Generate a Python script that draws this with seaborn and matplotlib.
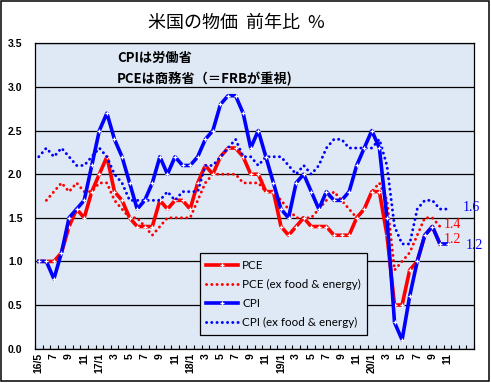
import numpy as np
import pandas as pd
import matplotlib
matplotlib.use("Agg")
import matplotlib.pyplot as plt
import seaborn as sns
from matplotlib.patches import Rectangle

# ---------------- data ----------------
title = "米国の物価  前年比  %"
note_lines = ["CPIは労働省", "PCEは商務省（＝FRBが重視)"]

n_months = 58  # 16/5 ... 21/2 category slots
tick_labels = ['16/5', '7', '9', '11', '17/1', '3', '5', '7', '9', '11',
               '18/1', '3', '5', '7', '9', '11', '19/1', '3', '5', '7', '9', '11',
               '20/1', '3', '5', '7', '9', '11']

pce = [1.0, 1.0, 1.0, 1.1, 1.4, 1.6, 1.5, 1.8, 2.0, 2.2,
       1.8, 1.7, 1.5, 1.4, 1.4, 1.4, 1.7, 1.6, 1.7, 1.7,
       1.6, 1.9, 2.1, 2.0, 2.2, 2.3, 2.3, 2.2, 2.0, 2.0,
       1.8, 1.8, 1.4, 1.3, 1.4, 1.5, 1.4, 1.4, 1.4, 1.3,
       1.3, 1.3, 1.5, 1.6, 1.8, 1.8, 1.3, 0.5, 0.5, 0.9,
       1.0, 1.3, 1.4, 1.2]
pce_core = [np.nan, 1.7, 1.8, 1.9, 1.8, 1.9, 1.8, 1.8, 1.9, 1.9,
            1.7, 1.6, 1.5, 1.5, 1.4, 1.3, 1.4, 1.5, 1.5, 1.5,
            1.5, 1.7, 1.9, 2.0, 2.0, 2.0, 2.0, 1.9, 1.9, 1.9,
            1.8, 1.8, 1.7, 1.6, 1.5, 1.5, 1.5, 1.6, 1.7, 1.8,
            1.7, 1.6, 1.5, 1.6, 1.8, 1.9, 1.7, 0.9, 1.0, 1.1,
            1.3, 1.5, 1.5, 1.4]
cpi = [1.0, 1.0, 0.8, 1.1, 1.5, 1.6, 1.7, 2.1, 2.5, 2.7,
       2.4, 2.2, 1.9, 1.6, 1.7, 1.9, 2.2, 2.0, 2.2, 2.1,
       2.1, 2.2, 2.4, 2.5, 2.8, 2.9, 2.9, 2.7, 2.3, 2.5,
       2.2, 1.9, 1.6, 1.5, 1.9, 2.0, 1.8, 1.6, 1.8, 1.7,
       1.7, 1.8, 2.1, 2.3, 2.5, 2.3, 1.5, 0.3, 0.1, 0.6,
       1.0, 1.3, 1.4, 1.2, 1.2]
cpi_core = [2.2, 2.3, 2.2, 2.3, 2.2, 2.1, 2.1, 2.2, 2.3, 2.2,
            2.0, 1.9, 1.7, 1.7, 1.7, 1.7, 1.7, 1.8, 1.7, 1.8,
            1.8, 1.8, 2.1, 2.1, 2.2, 2.3, 2.4, 2.2, 2.2, 2.1,
            2.2, 2.2, 2.2, 2.1, 2.0, 2.1, 2.0, 2.1, 2.3, 2.4,
            2.4, 2.3, 2.3, 2.3, 2.3, 2.4, 2.1, 1.4, 1.2, 1.2,
            1.6, 1.7, 1.7, 1.6, 1.6]

names = ['PCE', 'PCE (ex food & energy)', 'CPI', 'CPI (ex food & energy)']

# ---------------- figure ----------------
W, H, DPI = 491, 383, 100
fig = plt.figure(figsize=(W / DPI, H / DPI), dpi=DPI)
fig.patch.set_facecolor('white')

L, R, T, B = 35, 474, 43.4, 348.6
ax = fig.add_axes([L / W, 1 - B / H, (R - L) / W, (B - T) / H])
ax.set_facecolor('#dfe9f6')

RED, BLUE = '#ff0000', '#0000ff'
dot = (0, (0.05, 1.75))

def frame(vals):
    d = pd.DataFrame({'m': np.arange(len(vals)), 'v': vals})
    return d.dropna()

common_dot = dict(lw=2.1, dash_capstyle='round', sort=False)
common_sol = dict(lw=2.6, marker='+', ms=3.5, mew=0.9, mec='white', sort=False)

sns.lineplot(data=frame(pce_core), x='m', y='v', ax=ax, color=RED, linestyle=dot,
             label=names[1], zorder=3, **common_dot)
sns.lineplot(data=frame(pce), x='m', y='v', ax=ax, color=RED,
             label=names[0], zorder=4, **common_sol)
sns.lineplot(data=frame(cpi_core), x='m', y='v', ax=ax, color=BLUE, linestyle=dot,
             label=names[3], zorder=5, **common_dot)
sns.lineplot(data=frame(cpi), x='m', y='v', ax=ax, color=BLUE,
             label=names[2], zorder=6, **common_sol)

ax.set_xlim(-0.5, n_months - 0.5)
ax.set_ylim(0, 3.5)
ax.set_xlabel('')
ax.set_ylabel('')

ax.set_yticks(np.arange(0, 3.51, 0.5))
ax.set_yticklabels([f'{v:.1f}' for v in np.arange(0, 3.51, 0.5)],
                   fontfamily='Liberation Sans', fontweight='bold', fontsize=7.5)
ax.tick_params(axis='y', length=0, pad=9)

ax.set_xticks(np.arange(0, 2 * len(tick_labels), 2))
ax.set_xticklabels(tick_labels, rotation=90, fontfamily='Liberation Sans',
                   fontweight='bold', fontsize=7.5, va='top')
ax.tick_params(axis='x', which='major', length=0, pad=3)
ax.set_xticks(np.arange(-0.5, n_months, 1), minor=True)
ax.tick_params(axis='x', which='minor', direction='in', length=3, width=0.8, color='black')

ax.yaxis.grid(True, color='black', lw=0.9)
ax.set_axisbelow(True)
for s in ax.spines.values():
    s.set_color('black')
    s.set_linewidth(0.9)

# legend
h, l = ax.get_legend_handles_labels()
order = [l.index(n) for n in names]
leg = ax.legend([h[i] for i in order], [l[i] for i in order],
                loc='lower left', bbox_to_anchor=(0.376, 0.045),
                borderaxespad=0, numpoints=1, handlelength=2.7, handletextpad=0.35,
                labelspacing=0.7, borderpad=0.55, fancybox=False, framealpha=1,
                facecolor='#dfe9f6', edgecolor='black',
                prop={'family': 'Lato', 'size': 8.4})
leg.get_frame().set_linewidth(0.9)
leg.set_zorder(10)

# end-value labels
lab_font = dict(family='Liberation Serif', fontsize=10, ha='center', va='center')
ax.text(len(pce_core) - 1 + 1.6, pce_core[-1] + 0.02, f'{pce_core[-1]:.1f}', color=RED, clip_on=False, **lab_font)
ax.text(len(pce) - 1 + 1.6, pce[-1] + 0.05, f'{pce[-1]:.1f}', color=RED, clip_on=False, **lab_font)
ax.text(len(cpi_core) - 1 + 3.1, cpi_core[-1] + 0.02, f'{cpi_core[-1]:.1f}', color=BLUE, clip_on=False, **lab_font)
ax.text(len(cpi) - 1 + 3.5, cpi[-1] - 0.02, f'{cpi[-1]:.1f}', color=BLUE, clip_on=False, **lab_font)

# notes
cjk = ['Noto Sans CJK JP', 'DejaVu Sans']
ax.text((117 - L) / (R - L), (B - 58) / (B - T), note_lines[0], transform=ax.transAxes,
        family=cjk, fontweight='bold', fontsize=9.5, va='center', ha='left')
ax.text((117 - L) / (R - L), (B - 79) / (B - T), note_lines[1], transform=ax.transAxes,
        family=cjk, fontweight='bold', fontsize=9.5, va='center', ha='left')

# title
fig.text(148 / W, 1 - 23 / H, title, family=cjk, fontsize=13, ha='left', va='center')

# outer frame
fig.patches.append(Rectangle((0.5 / W, 2.5 / H), 488 / W, 380 / H, transform=fig.transFigure,
                             fill=False, edgecolor='black', lw=1.1))

fig.savefig('out.png', dpi=DPI)
